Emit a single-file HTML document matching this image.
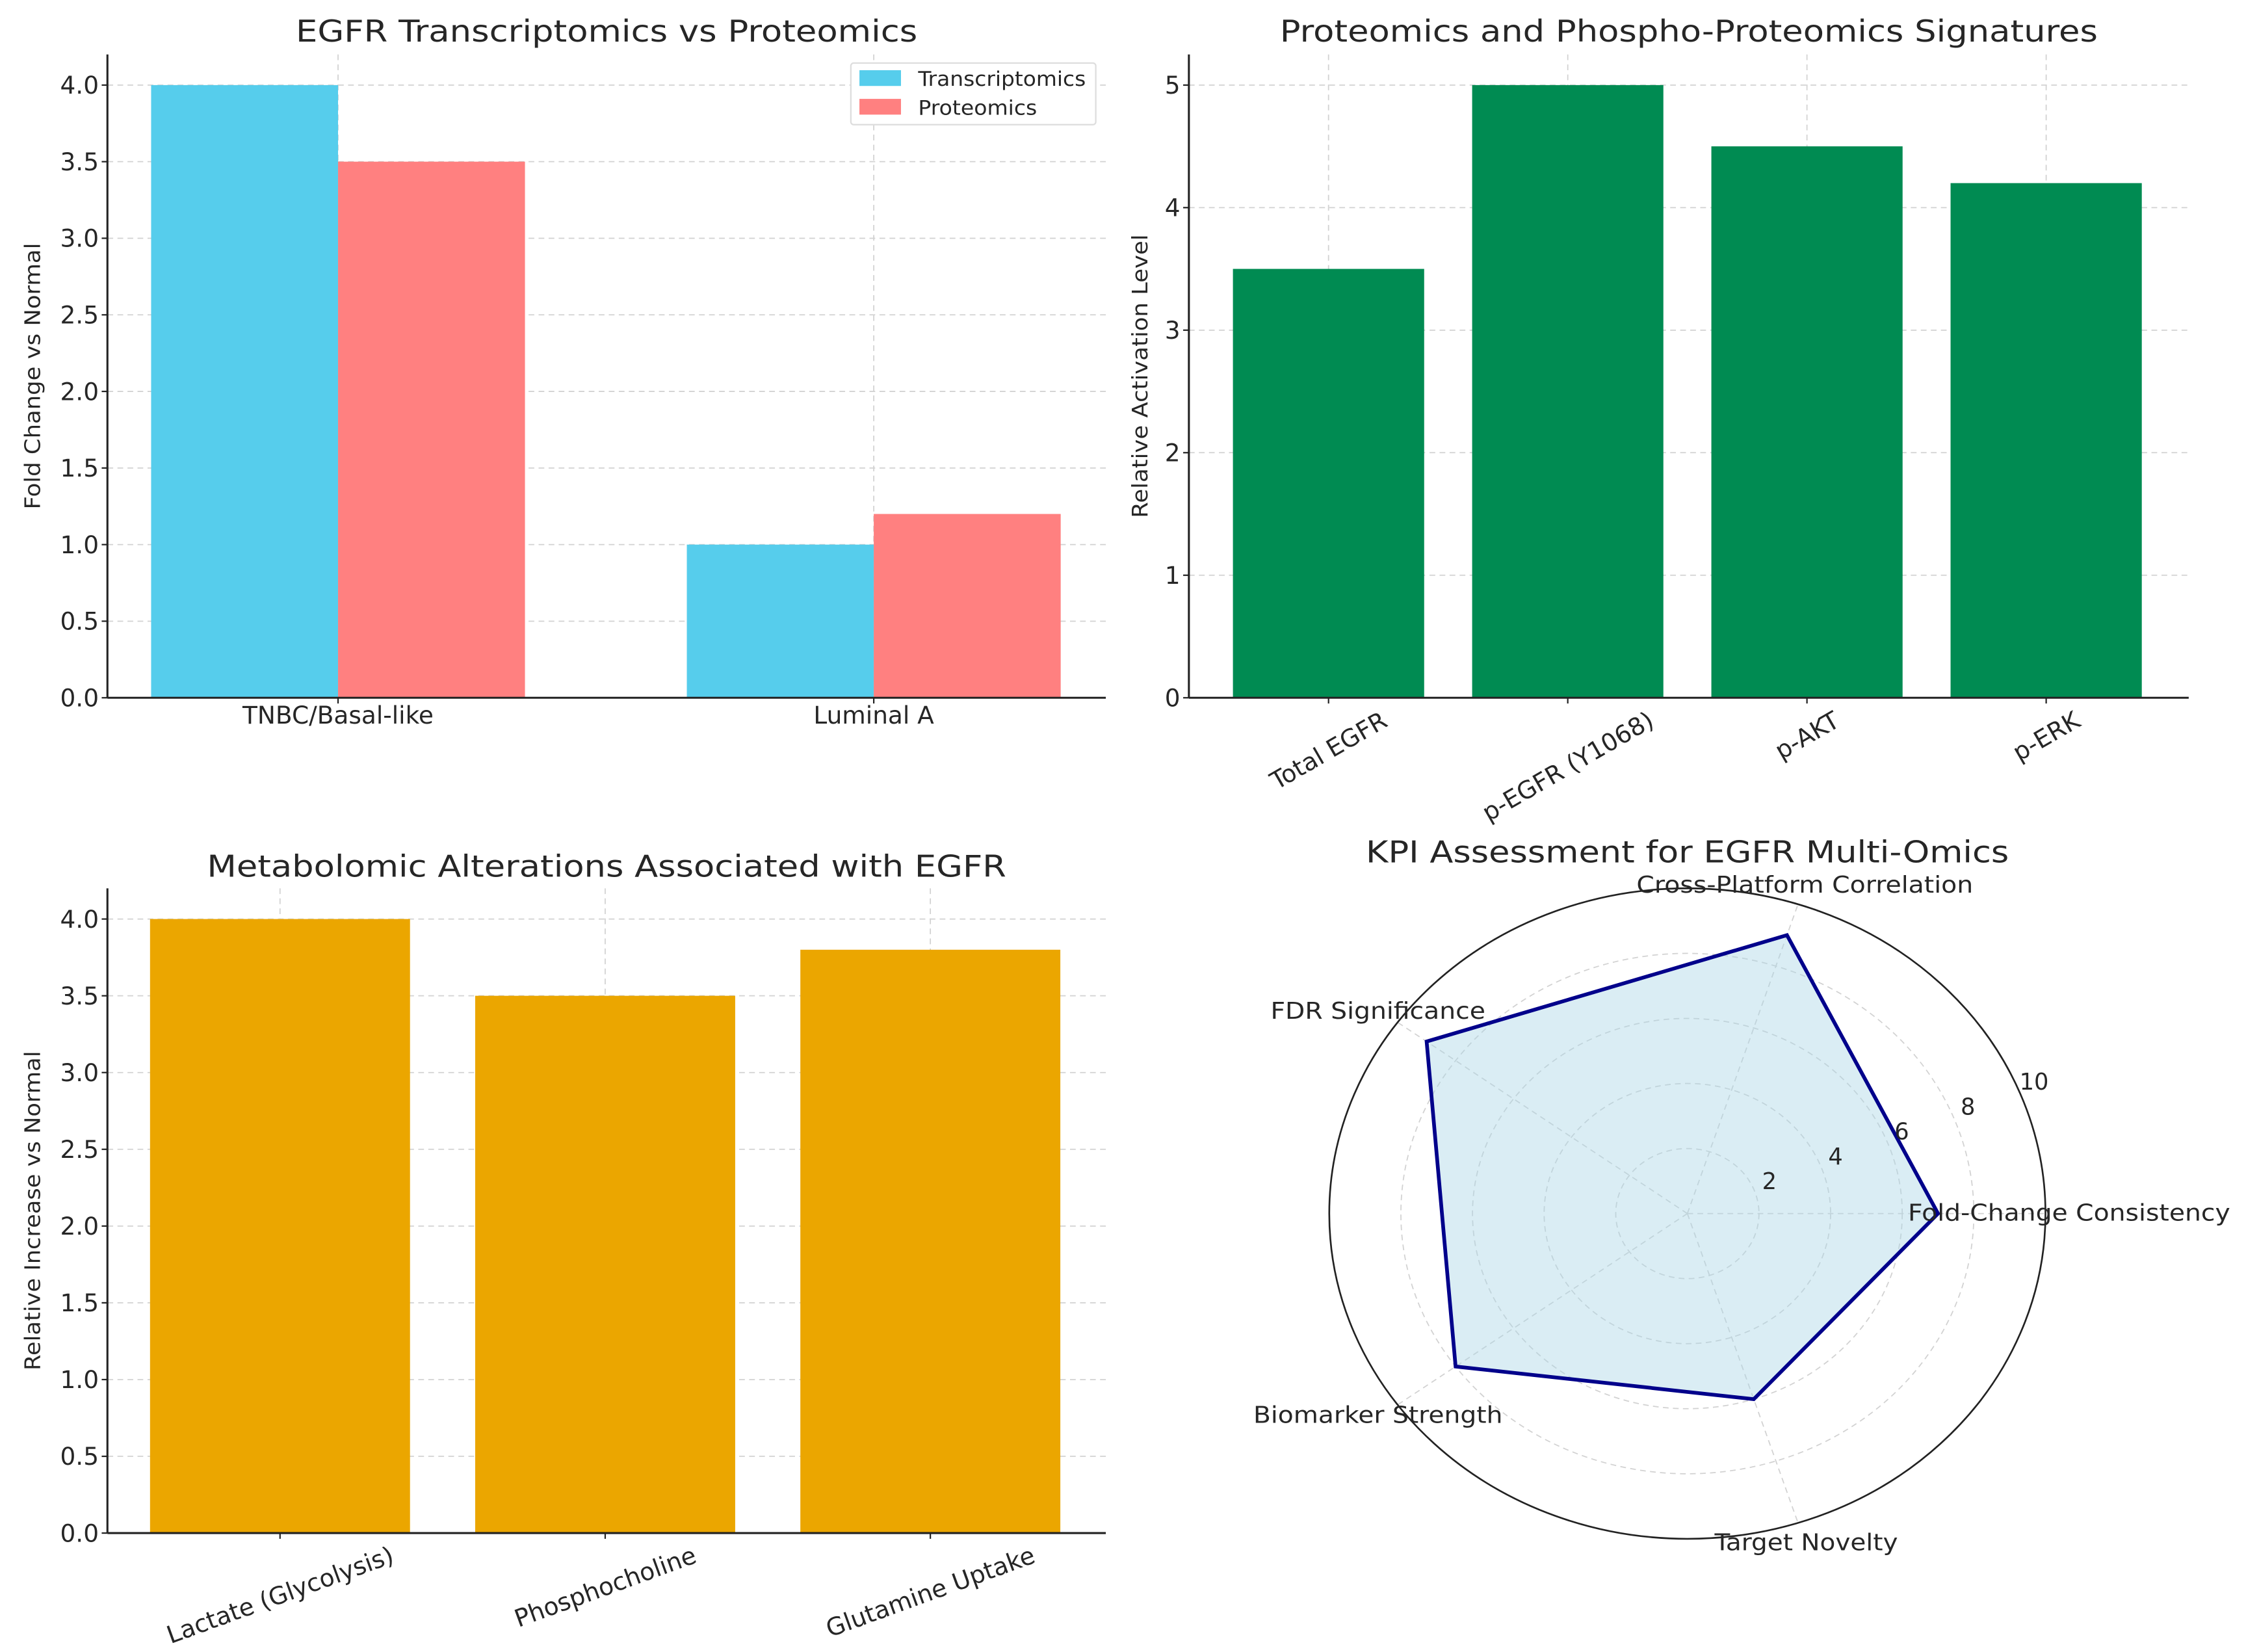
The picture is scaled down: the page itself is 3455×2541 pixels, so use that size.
<!DOCTYPE html>
<html><head><meta charset="utf-8"><style>
html,body{margin:0;padding:0;background:#fff;}
svg{display:block;}
text{font-family:"DejaVu Sans","Liberation Sans",sans-serif;fill:#262626;}
.tick{font-size:17px;}
.rtick{font-size:16px;}
.title{font-size:21px;}
.ylab{font-size:15px;}
.grid{stroke:#d2d2d2;stroke-width:0.8;stroke-dasharray:4 3;}
.spine{stroke:#222;stroke-width:1.4;}
</style></head><body>
<svg id="fig" width="3455" height="2541" viewBox="0 0 1568 1153" preserveAspectRatio="none" xmlns="http://www.w3.org/2000/svg">
<rect x="0" y="0" width="1568" height="1153" fill="#fff"/>
<g id="c1"></g>
<g id="c2"></g>
<g id="c3"></g>
<g id="c4"></g>
</svg>
<script>
const c1Categories = ["TNBC/Basal-like", "Luminal A"];
const c1Transcriptomics = [4.0, 1.0];
const c1Proteomics = [3.5, 1.2];
const c1Ticks = [0.0, 0.5, 1.0, 1.5, 2.0, 2.5, 3.0, 3.5, 4.0];

const c2Categories = ["Total EGFR", "p-EGFR (Y1068)", "p-AKT", "p-ERK"];
const c2Values = [3.5, 5.0, 4.5, 4.2];
const c2Ticks = [0, 1, 2, 3, 4, 5];

const c3Categories = ["Lactate (Glycolysis)", "Phosphocholine", "Glutamine Uptake"];
const c3Values = [4.0, 3.5, 3.8];
const c3Ticks = [0.0, 0.5, 1.0, 1.5, 2.0, 2.5, 3.0, 3.5, 4.0];

const kpiLabels = ["Fold-Change Consistency", "Cross-Platform Correlation", "FDR Significance", "Biomarker Strength", "Target Novelty"];
const kpiValues = [7, 9, 9, 8, 6];
const kpiTicks = [2, 4, 6, 8, 10];

const NS = "http://www.w3.org/2000/svg";
function mk(parent, tag, attrs, txt) {
  const e = document.createElementNS(NS, tag);
  for (const k in attrs) e.setAttribute(k, attrs[k]);
  if (txt !== undefined) e.textContent = txt;
  parent.appendChild(e);
  return e;
}

function axesFrame(g, L, R, T, B, ymax, ticks, fmt, ylabel, ylx, yLen, title, titleY, titleLen) {
  const y = v => B - (v / ymax) * (B - T);
  ticks.forEach(t => {
    const ln = mk(g, "line", {x1: L, x2: R, y1: y(t), y2: y(t), class: "grid"});
    
    
    mk(g, "line", {x1: L - 4, x2: L, y1: y(t), y2: y(t), stroke: "#222"});
    const tx = mk(g, "text", {x: L - 6, y: y(t) + 6, "text-anchor": "end", class: "tick"}, fmt(t));
    
    
  });
  const yl = mk(g, "text", {x: ylx, y: (T + B) / 2, "text-anchor": "middle", class: "ylab", textLength: yLen, lengthAdjust: "spacingAndGlyphs", transform: `rotate(-90 ${ylx} ${(T + B) / 2})`}, ylabel);
  
  
  const tt = mk(g, "text", {x: (L + R) / 2, y: titleY, "text-anchor": "middle", class: "title", textLength: titleLen, lengthAdjust: "spacingAndGlyphs"}, title);
  
  
  return y;
}
function spines(g, L, R, T, B) {
  mk(g, "line", {x1: L, x2: L, y1: T, y2: B, class: "spine"});
  mk(g, "line", {x1: L, x2: R, y1: B, y2: B, class: "spine"});
}
function rotLabel(g, txt, cx, top, deg) {
  const t = mk(g, "text", {x: cx, y: 0, "text-anchor": "middle", class: "tick"}, txt);
  const w = t.getComputedTextLength();
  const h = 14;
  const a = deg * Math.PI / 180;
  const bh = w * Math.sin(a) + h * Math.cos(a);
  const cy = top + bh / 2;
  t.setAttribute("y", cy + 6);
  t.setAttribute("transform", `rotate(-${deg} ${cx} ${cy})`);
  return t;
}

// Chart 1
(function () {
  const g = document.getElementById("c1");
  const L = 75, R = 772, T = 38, B = 487, ymax = 4.2;
  const x = v => 236 + 374 * v;
  const bw = 130.5;
  c1Categories.forEach((c, i) => mk(g, "line", {x1: x(i), x2: x(i), y1: T, y2: B, class: "grid"}));
  const y = axesFrame(g, L, R, T, B, ymax, c1Ticks, t => t.toFixed(1), "Fold Change vs Normal", 28, 186, "EGFR Transcriptomics vs Proteomics", 29, 434);
  c1Categories.forEach((c, i) => {
    const b1 = mk(g, "rect", {x: x(i) - bw, y: y(c1Transcriptomics[i]), width: bw, height: B - y(c1Transcriptomics[i]), fill: "#56CDEC"});
    
    
    const b2 = mk(g, "rect", {x: x(i), y: y(c1Proteomics[i]), width: bw, height: B - y(c1Proteomics[i]), fill: "#FF8080"});
    
    
    mk(g, "line", {x1: x(i), x2: x(i), y1: B, y2: B + 4, stroke: "#222"});
    const tl = mk(g, "text", {x: x(i), y: B + 18, "text-anchor": "middle", class: "tick"}, c);
    
    
  });
  spines(g, L, R, T, B);
  const lg = mk(g, "g", {});
  
  
  mk(lg, "rect", {x: 594, y: 44, width: 171, height: 43, fill: "#fff", stroke: "#ddd", rx: 2});
  mk(lg, "rect", {x: 600, y: 49, width: 29, height: 11, fill: "#56CDEC"});
  mk(lg, "rect", {x: 600, y: 69, width: 29, height: 11, fill: "#FF8080"});
  const e1 = mk(lg, "text", {x: 641, y: 60, style: "font-size:14px", textLength: 117, lengthAdjust: "spacingAndGlyphs"}, "Transcriptomics");
  
  
  const e2 = mk(lg, "text", {x: 641, y: 80, style: "font-size:14px", textLength: 83, lengthAdjust: "spacingAndGlyphs"}, "Proteomics");
  
  
})();

// Chart 2
(function () {
  const g = document.getElementById("c2");
  const L = 830, R = 1528, T = 38, B = 487, ymax = 5.25;
  const x = i => 927.5 + 167 * i;
  const bw = 133.5;
  c2Categories.forEach((c, i) => mk(g, "line", {x1: x(i), x2: x(i), y1: T, y2: B, class: "grid"}));
  const y = axesFrame(g, L, R, T, B, ymax, c2Ticks, t => String(t), "Relative Activation Level", 801, 198, "Proteomics and Phospho-Proteomics Signatures", 29, 571);
  c2Categories.forEach((c, i) => {
    const b = mk(g, "rect", {x: x(i) - bw / 2, y: y(c2Values[i]), width: bw, height: B - y(c2Values[i]), fill: "#008B52"});
    
    
    mk(g, "line", {x1: x(i), x2: x(i), y1: B, y2: B + 4, stroke: "#222"});
    const tl = rotLabel(g, c, x(i), B + 8, 30);
    
    
  });
  spines(g, L, R, T, B);
})();

// Chart 3
(function () {
  const g = document.getElementById("c3");
  const L = 75, R = 772, T = 620, B = 1070, ymax = 4.2;
  const x = i => 195.5 + 227 * i;
  const bw = 181.5;
  c3Categories.forEach((c, i) => mk(g, "line", {x1: x(i), x2: x(i), y1: T, y2: B, class: "grid"}));
  const y = axesFrame(g, L, R, T, B, ymax, c3Ticks, t => t.toFixed(1), "Relative Increase vs Normal", 28, 223, "Metabolomic Alterations Associated with EGFR", 612, 558);
  c3Categories.forEach((c, i) => {
    const b = mk(g, "rect", {x: x(i) - bw / 2, y: y(c3Values[i]), width: bw, height: B - y(c3Values[i]), fill: "#EBA600"});
    
    
    mk(g, "line", {x1: x(i), x2: x(i), y1: B, y2: B + 4, stroke: "#222"});
    const tl = rotLabel(g, c, x(i), B + 8, 20);
    
    
  });
  spines(g, L, R, T, B);
})();

// Radar
(function () {
  const g = document.getElementById("c4");
  const cx = 1178, cy = 847, Rx = 250, Ry = 227, rmax = 10;
  const n = kpiLabels.length;
  const ang = i => i * 2 * Math.PI / n;
  const pt = (v, i) => [cx + v / rmax * Rx * Math.cos(ang(i)), cy - v / rmax * Ry * Math.sin(ang(i))];
  kpiTicks.slice(0, -1).forEach(t => {
    const c = mk(g, "ellipse", {cx, cy, rx: t / rmax * Rx, ry: t / rmax * Ry, fill: "none", class: "grid"});
    
    
  });
  kpiLabels.forEach((l, i) => {
    const [px, py] = pt(rmax, i);
    mk(g, "line", {x1: cx, y1: cy, x2: px, y2: py, class: "grid"});
  });
  const poly = kpiValues.map((v, i) => pt(v, i).join(",")).join(" ");
  const area = mk(g, "polygon", {points: poly, fill: "#ADD8E6", "fill-opacity": 0.45, stroke: "#00008B", "stroke-width": 2.6});
  
  
  mk(g, "ellipse", {cx, cy, rx: Rx, ry: Ry, fill: "none", stroke: "#222", "stroke-width": 1.2});
  const ta = 22.5 * Math.PI / 180;
  kpiTicks.forEach(t => {
    const rr = t / rmax;
    const tx = mk(g, "text", {x: cx + (rr * Rx + 12) * Math.cos(ta), y: cy - (rr * Ry + 12) * Math.sin(ta) + 5, "text-anchor": "middle", class: "rtick"}, String(t));
    
    
  });
  const lab = [[1332, 852, "start", 225], [1260, 623, "middle", 235], [962, 711, "middle", 150], [962, 993, "middle", 174], [1261, 1082, "middle", 128]];
  kpiLabels.forEach((l, i) => {
    const p = lab[i];
    const tl = mk(g, "text", {x: p[0], y: p[1], "text-anchor": p[2], class: "rtick", textLength: p[3], lengthAdjust: "spacingAndGlyphs"}, l);
    
    
  });
  const tt = mk(g, "text", {x: 1178, y: 602, "text-anchor": "middle", class: "title", textLength: 449, lengthAdjust: "spacingAndGlyphs"}, "KPI Assessment for EGFR Multi-Omics");
  
  
})();
</script>
</body></html>
